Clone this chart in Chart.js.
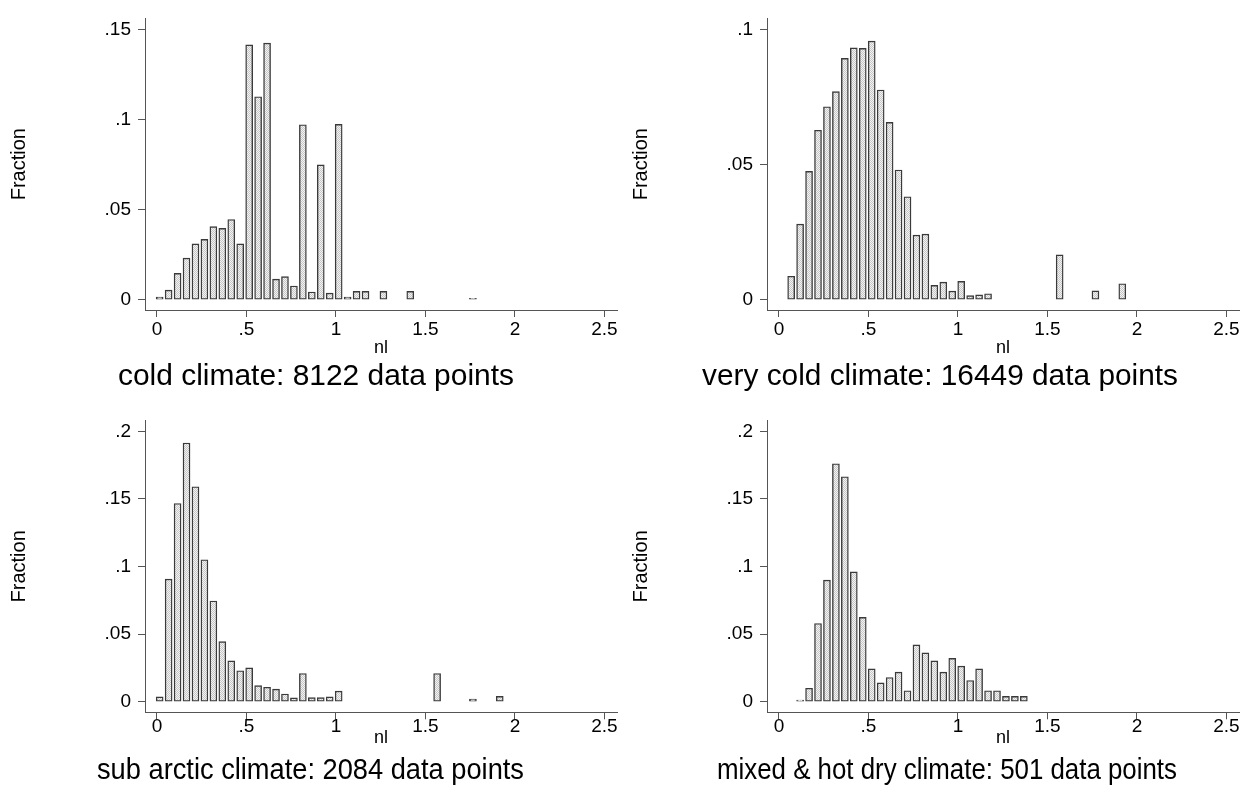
<!DOCTYPE html>
<html><head><meta charset="utf-8">
<script src="https://cdn.jsdelivr.net/npm/chart.js@4.4.0/dist/chart.umd.min.js"></script>
<style>
html,body{margin:0;padding:0;background:#fff;width:1246px;height:791px;overflow:hidden;}
.panel{position:absolute;}
.cap{position:absolute;font-family:'Liberation Sans',Arial,sans-serif;font-size:30px;line-height:1;color:#000;white-space:nowrap;transform-origin:0 0;}
</style></head><body>
<div class="panel" style="left:0;top:0;width:623px;height:395px"><canvas id="c1"></canvas></div>
<div class="panel" style="left:622px;top:0;width:624px;height:395px"><canvas id="c2"></canvas></div>
<div class="panel" style="left:0;top:402px;width:623px;height:389px"><canvas id="c3"></canvas></div>
<div class="panel" style="left:622px;top:402px;width:624px;height:389px"><canvas id="c4"></canvas></div>
<div class="cap" id="t1" style="left:118px;top:360px" data-w="396"></div>
<div class="cap" id="t2" style="left:702px;top:360px" data-w="476"></div>
<div class="cap" id="t3" style="left:97px;top:754px" data-w="427"></div>
<div class="cap" id="t4" style="left:717px;top:754px" data-w="460"></div>
<script>
// ---- data ----
const captions = ["cold climate: 8122 data points", "very cold climate: 16449 data points",
                  "sub arctic climate: 2084 data points", "mixed & hot dry climate: 501 data points"];
const xTitle = "nl";
const yTitle = "Fraction";
const xTicks = [0, 0.5, 1, 1.5, 2, 2.5];
const xTickLabels = ["0", ".5", "1", "1.5", "2", "2.5"];
const yTicksTop1 = [0, 0.05, 0.1, 0.15];
const yTickLabelsTop1 = ["0", ".05", ".1", ".15"];
const yTicksTop2 = [0, 0.05, 0.1];
const yTickLabelsTop2 = ["0", ".05", ".1"];
const yTicksBottom = [0, 0.05, 0.1, 0.15, 0.2];
const yTickLabelsBottom = ["0", ".05", ".1", ".15", ".2"];

const coldX = [0.015,0.065,0.115,0.165,0.215,0.265,0.315,0.365,0.415,0.465,0.515,0.565,0.615,0.665,0.715,0.765,0.815,0.865,0.915,0.965,1.015,1.065,1.115,1.165,1.265,1.415,1.765];
const coldY = [0.0015,0.0053,0.0146,0.0231,0.031,0.0335,0.0406,0.0396,0.0445,0.031,0.1414,0.1126,0.1424,0.0114,0.0128,0.0076,0.0971,0.0043,0.0748,0.0037,0.0973,0.0015,0.0046,0.0046,0.0046,0.0046,0.0008];

const veryColdX = [0.068,0.118,0.168,0.218,0.268,0.318,0.368,0.418,0.468,0.518,0.568,0.618,0.668,0.718,0.768,0.818,0.868,0.918,0.968,1.018,1.068,1.118,1.168,1.568,1.768,1.918];
const veryColdY = [0.0087,0.0280,0.0475,0.0627,0.0714,0.0770,0.0893,0.0932,0.0930,0.0957,0.0776,0.0656,0.0480,0.0381,0.0239,0.0243,0.0053,0.0065,0.0032,0.0068,0.0015,0.0018,0.0022,0.0166,0.0033,0.0059];

const subArcticX = [0.015,0.065,0.115,0.165,0.215,0.265,0.315,0.365,0.415,0.465,0.515,0.565,0.615,0.665,0.715,0.765,0.815,0.865,0.915,0.965,1.015,1.565,1.765,1.915];
const subArcticY = [0.0036,0.0907,0.1466,0.1914,0.159,0.105,0.0745,0.0445,0.0302,0.0229,0.025,0.0119,0.0107,0.0093,0.0057,0.0029,0.0209,0.0031,0.0031,0.0036,0.0079,0.0209,0.002,0.004];

const mixedX = [0.118,0.168,0.218,0.268,0.318,0.368,0.418,0.468,0.518,0.568,0.618,0.668,0.718,0.768,0.818,0.868,0.918,0.968,1.018,1.068,1.118,1.168,1.218,1.268,1.318,1.368];
const mixedY = [0.0012,0.010,0.0579,0.090,0.176,0.1664,0.0961,0.0624,0.0243,0.014,0.0179,0.0219,0.0081,0.0421,0.0361,0.0302,0.0219,0.0321,0.0264,0.0157,0.0243,0.0081,0.0081,0.004,0.004,0.004];

// ---- drawing ----
const FONT = "'Liberation Sans', Arial, sans-serif";
function makePattern(){
  const c=document.createElement('canvas'); c.width=2; c.height=2;
  const g=c.getContext('2d');
  g.fillStyle='#f3f3f3'; g.fillRect(0,0,2,2);
  g.fillStyle='#c6c6c6'; g.fillRect(0,0,1,1); g.fillRect(1,1,1,1);
  return g.createPattern(c,'repeat');
}
const pattern = makePattern();

function makeChart(id, xs, ys, yTicks, yLabels, yMin, yMax, opt){
  const ctx = document.getElementById(id);
  return new Chart(ctx, {
    type: 'bar',
    data: { datasets: [{
      data: xs.map((x,i)=>({x:x, y:ys[i]})),
      backgroundColor: pattern, borderColor: '#3a3a3a', borderWidth: 1.4,
      barThickness: 7, borderSkipped: false
    }]},
    options: {
      responsive: true, maintainAspectRatio: false, animation: false,
      layout: { padding: { top: 7, left: 0, right: opt.padRight, bottom: opt.pb } },
      plugins: { legend: {display:false}, tooltip: {enabled:false} },
      scales: {
        x: {
          type: 'linear', min: -0.067, max: 2.57, offset: false,
          grid: { display:true, drawOnChartArea:false, drawTicks:true, tickLength:7, color:'#555', offset:false },
          border: { display:true, color:'#555', width:1 },
          ticks: { padding: opt.xpad, color:'#000', font:{family:FONT, size:19}, autoSkip:false, maxRotation:0,
                   callback: (v,i)=>xTickLabels[i] },
          afterBuildTicks: ax => { ax.ticks = xTicks.map(v=>({value:v})); },
          afterFit: ax => { ax.height = opt.xh; },
          title: { display:true, text:xTitle, color:'#000', font:{family:FONT, size:18}, padding:{top:0,bottom:0} }
        },
        y: {
          min: yMin, max: yMax,
          grid: { display:true, drawOnChartArea:false, drawTicks:true, tickLength:7, color:'#555' },
          border: { display:true, color:'#555', width:1 },
          ticks: { padding: 7, color:'#000', font:{family:FONT, size:19}, autoSkip:false,
                   callback: (v,i)=>yLabels[i] },
          afterBuildTicks: ax => { ax.ticks = yTicks.map(v=>({value:v})); },
          afterFit: ax => { ax.width = 145; },
          title: { display:true, text:yTitle, color:'#000', font:{family:FONT, size:20}, padding:{top:7,bottom:0} }
        }
      }
    }
  });
}

makeChart('c1', coldX, coldY, yTicksTop1, yTickLabelsTop1, -0.0057, 0.1561, {padRight:6, xh:48.8, pb:36.2, xpad:1});
makeChart('c2', veryColdX, veryColdY, yTicksTop2, yTickLabelsTop2, -0.0038, 0.1041, {padRight:7, xh:48.8, pb:36.2, xpad:1});
makeChart('c3', subArcticX, subArcticY, yTicksBottom, yTickLabelsBottom, -0.0078, 0.2081, {padRight:6, xh:36.5, pb:42.2, xpad:-4});
makeChart('c4', mixedX, mixedY, yTicksBottom, yTickLabelsBottom, -0.0078, 0.2081, {padRight:7, xh:36.5, pb:42.2, xpad:-4});

['t1','t2','t3','t4'].forEach((id,i)=>{
  const el = document.getElementById(id);
  el.textContent = captions[i];
  const target = parseFloat(el.dataset.w);
  const w = el.getBoundingClientRect().width;
  el.style.transform = 'scaleX(' + (target / w) + ')';
});
</script>
</body></html>
